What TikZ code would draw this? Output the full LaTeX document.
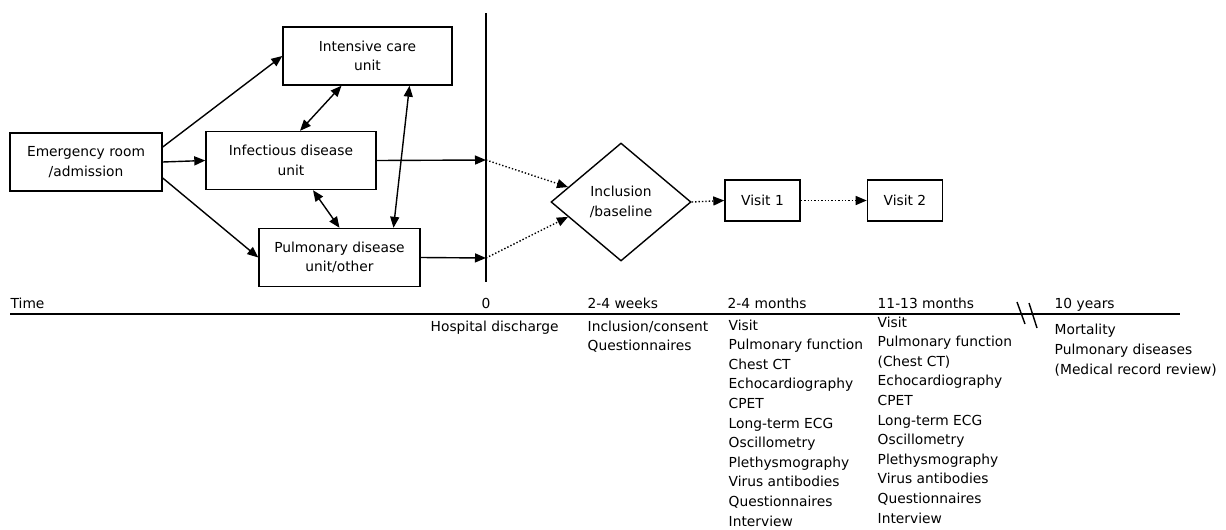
\documentclass[tikz,border=0pt]{standalone}
\usepackage{fontspec}
\setmainfont{DejaVu Sans}
\usetikzlibrary{arrows.meta}
\usetikzlibrary{shapes.geometric}
\usetikzlibrary{positioning}
\usetikzlibrary{calc}

\begin{document}
\begin{tikzpicture}[
            x = 1pt, y = -1pt, % pixel grid, y runs down
            > = {Triangle[length=11pt,width=9pt]}, % arrow head style
            line width = 1.4pt, % line style
            font = \fontsize{13.8}{19.6}\selectfont
        ]

        \tikzstyle{ward}=[
            draw,
            align = center,
            minimum height = 58pt,
            inner sep = 0pt
        ]
        \tikzstyle{visitbox}=[draw, minimum width = 75pt, minimum height = 41pt]
        \tikzstyle{tick}=[anchor = base west, inner sep = 0pt, align = left] % base = last line

        \useasboundingbox (0,0) rectangle (1226,530);

	% hospital stay
        \node[ward, minimum width = 152pt] (ER) at (86,162) {Emergency room\\/admission};
        \node[ward, minimum width = 169pt] (ICU) at (367.5,56) {Intensive care\\unit};
        \node[ward, minimum width = 170pt] (Inf) at (291,160.5) {Infectious disease\\unit};
        \node[ward, minimum width = 161pt] (Pulm) at (339.5,257.5) {Pulmonary disease\\unit/other};

        \path[->] ([yshift=15pt]ER.east) edge node {} (ICU.west);
        \path[->] (ER.east) edge node {} (Inf.west);
        \path[->] ([yshift=-16pt]ER.east) edge node {} (Pulm.west);

        \path[<->] ([xshift=-26pt]ICU.south) edge node {} ([xshift=9pt]Inf.north);
        \path[<->] ([xshift=42pt]ICU.south) edge node {} ([xshift=54pt]Pulm.north);
        \path[<->] ([xshift=22pt]Inf.south) edge node {} (Pulm.north);

        % discharge
        \coordinate (DT) at (486,13);
        \coordinate (DB) at (486,282);
        \coordinate (D1) at (486,160);
        \coordinate (D2) at (486,258);
        \draw (DT) -- (DB);

        \path[->] (Inf.east) edge node {} (D1);
        \path[->] (Pulm.east) edge node {} (D2);

        % follow-up
        \node[draw, diamond, align = center, minimum width = 140pt, minimum height = 118pt, inner sep = 0pt] (IB) at (621,202) {Inclusion\\/baseline};
        \node[visitbox] (V1) at (762.5,200.5) {Visit 1};
        \node[visitbox] (V2) [right = 66pt of V1] {Visit 2};

        \path[->, dotted] (D1) edge node {} ($(IB.west)!0.25!(IB.north)$);
        \path[->, dotted] (D2) edge node {} ($(IB.west)!0.25!(IB.south)$);
        \path[->, dotted] (IB.east) edge node {} (V1.west);
        \path[->, dotted] (V1.east) edge node {} (V2.west);

        % time axis
        \coordinate (T0) at (10,314);
        \coordinate (T1) at (1180,314);
        \draw (T0) -- (T1);
        \draw (1017,302) -- (1025,324);
        \draw (1029,303) -- (1037,328);

        \node[tick] (tTime) at (10,308) {Time};
        \node[anchor = base, inner sep = 0pt] (tZero) at (486,308) {0};
        \node[tick] (tWeeks) at (587,308) {2-4 weeks};
        \node[tick] (tMonths) at (727,308) {2-4 months};
        \node[tick] (tYear) at (877,308) {11-13 months};
        \node[tick] (tTen) at (1054,308) {10 years};

        % what happens when
        \node[tick] (lZero) at (430,331) {Hospital discharge};
        \node[tick] (lWeeks) at (587,350.6) {Inclusion/consent\\Questionnaires};
        \node[tick] (lMonths) at (728,526) {Visit\\Pulmonary function\\Chest CT\\Echocardiography\\CPET\\Long-term ECG\\Oscillometry\\Plethysmography\\Virus antibodies\\Questionnaires\\Interview};
        \node[tick] (lYear) at (877,523) {Visit\\Pulmonary function\\(Chest CT)\\Echocardiography\\CPET\\Long-term ECG\\Oscillometry\\Plethysmography\\Virus antibodies\\Questionnaires\\Interview};
        \node[tick] (lTen) at (1054,374) {Mortality\\Pulmonary diseases\\(Medical record review)};

  \end{tikzpicture}
\end{document}
